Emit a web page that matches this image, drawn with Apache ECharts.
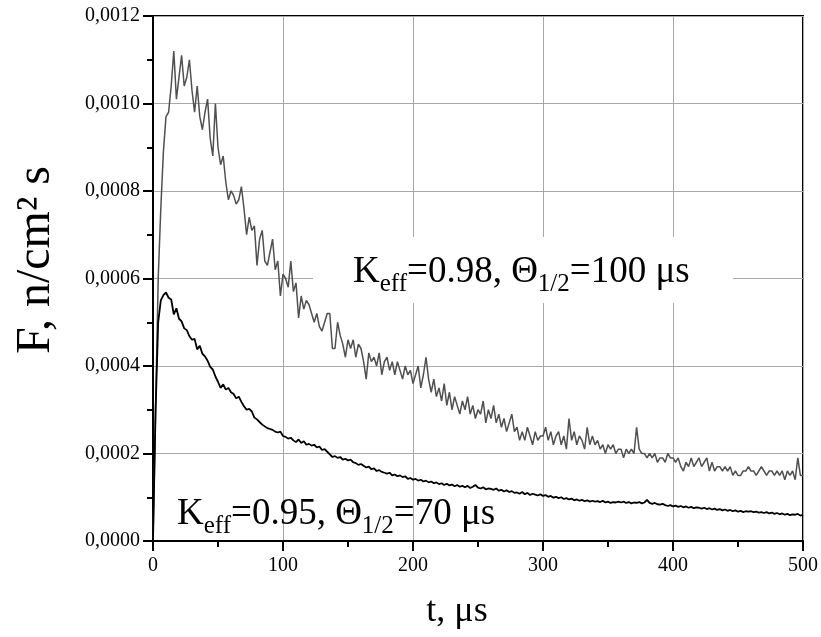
<!DOCTYPE html>
<html>
<head>
<meta charset="utf-8">
<script src="https://cdn.jsdelivr.net/npm/echarts@6/dist/echarts.min.js"></script>
<style>html,body{margin:0;padding:0;background:#fff}#c{width:821px;height:637px}</style>
</head>
<body>
<div id="c"></div>
<script>
// time axis, µs
const tValues = [
0,2,4,6,8,10,12,14,16,18,
20,22,24,26,28,30,32,34,36,38,
40,42,44,46,48,50,52,54,56,58,
60,62,64,66,68,70,72,74,76,78,
80,82,84,86,88,90,92,94,96,98,
100,102,104,106,108,110,112,114,116,118,
120,122,124,126,128,130,132,134,136,138,
140,142,144,146,148,150,152,154,156,158,
160,162,164,166,168,170,172,174,176,178,
180,182,184,186,188,190,192,194,196,198,
200,202,204,206,208,210,212,214,216,218,
220,222,224,226,228,230,232,234,236,238,
240,242,244,246,248,250,252,254,256,258,
260,262,264,266,268,270,272,274,276,278,
280,282,284,286,288,290,292,294,296,298,
300,302,304,306,308,310,312,314,316,318,
320,322,324,326,328,330,332,334,336,338,
340,342,344,346,348,350,352,354,356,358,
360,362,364,366,368,370,372,374,376,378,
380,382,384,386,388,390,392,394,396,398,
400,402,404,406,408,410,412,414,416,418,
420,422,424,426,428,430,432,434,436,438,
440,442,444,446,448,450,452,454,456,458,
460,462,464,466,468,470,472,474,476,478,
480,482,484,486,488,490,492,494,496,498,
500];

// K_eff = 0.98 (grey curve), F in n/cm2 s
const fluxK098 = [
0,.00030,.00060,.00076,.00089,.00097,.00098,.00104,.00112,.00101,
.00106,.00111,.00104,.00106,.00110,.00103,.00098,.00104,.00097,.00094,
.00098,.00101,.00092,.00088,.00100,.00090,.00086,.00088,.00082,.00078,
.00080,.00079,.00077,.00078,.00081,.00076,.00070,.00074,.00071,.00072,
.00063,.00069,.00071,.00064,.00063,.00066,.00069,.00062,.00064,.00056,
.00061,.00060,.00058,.00064,.00057,.00059,.00051,.00056,.00053,.00055,
.00054,.00052,.00050,.00052,.00049,.00048,.00050,.00052,.00052,.00044,
.00044,.00050,.00047,.00045,.00042,.00046,.00044,.00046,.00042,.00045,
.00044,.00041,.00037,.00043,.00041,.00042,.00040,.00043,.00038,.00041,
.00042,.00039,.00041,.00038,.00041,.00039,.00037,.00040,.00038,.00039,
.00036,.00038,.00040,.00035,.00038,.00042,.00037,.00034,.00037,.00033,
.00035,.00032,.00036,.00031,.00034,.00030,.00033,.00031,.00029,.00032,
.00030,.00033,.00029,.00031,.00028,.00030,.00029,.00032,.00027,.00030,
.00028,.00031,.00027,.00029,.00026,.00028,.00025,.00027,.00029,.00025,
.00026,.00023,.00025,.00023,.00026,.00024,.00022,.00025,.00023,.00024,
.00024,.00026,.00023,.00025,.00022,.00024,.00025,.00022,.00024,.00021,
.00028,.00023,.00025,.00022,.00024,.00023,.00021,.00026,.00022,.00024,
.00022,.00023,.00021,.00022,.00020,.00022,.00021,.00022,.00020,.00021,
.00021,.00019,.00021,.00020,.00021,.00020,.00026,.00021,.00020,.00020,
.00019,.00020,.00019,.00020,.00018,.00019,.00019,.00018,.00020,.00019,
.00019,.00018,.00019,.00017,.00016,.00018,.00017,.00019,.00017,.00018,
.00019,.00017,.00018,.00019,.00016,.00018,.00016,.00017,.00017,.00016,
.00017,.00016,.00017,.00015,.00016,.00015,.00015,.00016,.00016,.00017,
.00016,.00016,.00015,.00016,.00017,.00016,.00015,.00016,.00016,.00015,
.00016,.00015,.00016,.00014,.00016,.00015,.00016,.00014,.00019,.00015,
.00015];

// K_eff = 0.95 (black curve)
const fluxK095 = [
0,.000300,.000500,.000550,.000562,.000568,.000556,.000552,.000518,.000532,
.000508,.000502,.000486,.000482,.000468,.000460,.000462,.000438,.000446,.000428,
.000422,.000412,.000398,.000392,.000376,.000364,.000350,.000358,.000346,.000350,
.000340,.000336,.000326,.000330,.000318,.000308,.000300,.000302,.000296,.000282,
.000278,.000272,.000266,.000262,.000258,.000256,.000254,.000250,.000248,.000250,
.000240,.000238,.000234,.000236,.000230,.000226,.000232,.000224,.000228,.000220,
.000222,.000218,.000220,.000214,.000216,.000208,.000210,.000204,.000198,.000192,
.000194,.000190,.000192,.000186,.000188,.000184,.000186,.000180,.000178,.000174,
.000176,.000172,.000168,.000170,.000164,.000166,.000160,.000162,.000158,.000156,
.000154,.000156,.000150,.000152,.000148,.000150,.000146,.000148,.000142,.000144,
.000140,.000142,.000138,.000140,.000136,.000138,.000134,.000136,.000132,.000134,
.000130,.000132,.000128,.000131,.000127,.000129,.000125,.000128,.000124,.000126,
.000123,.000126,.000121,.000124,.000128,.000122,.000120,.000123,.000118,.000120,
.000119,.000117,.000120,.000115,.000117,.000113,.000116,.000112,.000114,.000110,
.000111,.000108,.000112,.000107,.000110,.000105,.000108,.000106,.000104,.000107,
.000103,.000105,.000101,.000103,.000099,.000101,.000098,.000100,.000096,.000098,
.000095,.000097,.000093,.000095,.000092,.000094,.000091,.000093,.000090,.000092,
.000090,.000091,.000089,.000092,.000088,.000090,.000087,.000089,.000088,.000090,
.000088,.000090,.000087,.000089,.000086,.000088,.000087,.000089,.000086,.000088,
.000094,.000087,.000085,.000087,.000084,.000083,.000085,.000082,.000080,.000082,
.000079,.000081,.000078,.000080,.000077,.000079,.000076,.000078,.000075,.000077,
.000076,.000074,.000076,.000073,.000075,.000072,.000074,.000071,.000073,.000070,
.000072,.000069,.000071,.000068,.000070,.000067,.000069,.000066,.000068,.000067,
.000068,.000066,.000067,.000065,.000066,.000064,.000066,.000063,.000065,.000062,
.000064,.000061,.000063,.000060,.000062,.000059,.000061,.000060,.000062,.000058,
.000060];

const xTicks = [0, 100, 200, 300, 400, 500];
const yTicks = [0, 0.0002, 0.0004, 0.0006, 0.0008, 0.0010, 0.0012];
const labelTop = ['K', 'eff', '=0.98, Θ', '1/2', '=100 μs'];
const labelBottom = ['K', 'eff', '=0.95, Θ', '1/2', '=70 μs'];

const FONT = 'Liberation Serif, Times New Roman, serif';
const chart = echarts.init(document.getElementById('c'), null, {renderer: 'canvas'});

function richText(parts) {
  return '{m|' + parts[0] + '}{s|' + parts[1] + '}{m|' + parts[2] + '}{s|' + parts[3] + '}{m|' + parts[4] + '}';
}
const rich = {
  m: {fontSize: 37, fontFamily: FONT, lineHeight: 37, verticalAlign: 'top', fill: '#000'},
  s: {fontSize: 25, fontFamily: FONT, lineHeight: 25, padding: [18, 0, 0, 0], verticalAlign: 'top', fill: '#000'}
};

chart.setOption({
  animation: false,
  backgroundColor: '#fff',
  grid: {left: 153, right: 15, top: 16, bottom: 96, show: true, borderColor: '#000', borderWidth: 2, backgroundColor: 'transparent'},
  xAxis: {
    type: 'value', min: xTicks[0], max: xTicks[xTicks.length - 1], interval: 100,
    axisLine: {show: true, onZero: false, lineStyle: {color: '#000', width: 2}},
    axisTick: {show: true, length: 10, lineStyle: {color: '#000', width: 2}},
    minorTick: {show: true, splitNumber: 2, length: 6, lineStyle: {color: '#000', width: 2}},
    axisLabel: {fontFamily: FONT, fontSize: 20, color: '#000', margin: 15},
    splitLine: {show: true, lineStyle: {color: '#a8a8a8', width: 1}}
  },
  yAxis: {
    type: 'value', min: yTicks[0], max: yTicks[yTicks.length - 1], interval: 0.0002,
    axisLine: {show: true, onZero: false, lineStyle: {color: '#000', width: 2}},
    axisTick: {show: true, length: 10, lineStyle: {color: '#000', width: 2}},
    minorTick: {show: true, splitNumber: 2, length: 6, lineStyle: {color: '#000', width: 2}},
    axisLabel: {fontFamily: FONT, fontSize: 20, color: '#000', margin: 13,
      formatter: v => v.toFixed(4).replace('.', ',')},
    splitLine: {show: true, lineStyle: {color: '#a8a8a8', width: 1}}
  },
  graphic: [
    {type: 'rect', z: 1, shape: {x: 313, y: 237, width: 420, height: 66}, style: {fill: '#fff'}},
    {type: 'text', z: 100, x: 353, y: 254, style: {text: richText(labelTop), rich: rich, align: 'left', verticalAlign: 'top'}},
    {type: 'text', z: 100, x: 177, y: 496, style: {text: richText(labelBottom), rich: rich, align: 'left', verticalAlign: 'top'}},
    {type: 'text', z: 100, x: 36, y: 260, rotation: Math.PI / 2,
      style: {text: 'F, n/cm² s', font: '48px ' + FONT, fill: '#000', align: 'center', verticalAlign: 'middle'}},
    {type: 'text', z: 100, x: 457, y: 612,
      style: {text: 't, μs', font: '36px ' + FONT, fill: '#000', align: 'center', verticalAlign: 'middle'}}
  ],
  series: [
    {type: 'line', name: 'K_eff=0.98', data: tValues.map((t, i) => [t, fluxK098[i]]), showSymbol: false,
      lineStyle: {color: '#505050', width: 1.5}, z: 3},
    {type: 'line', name: 'K_eff=0.95', data: tValues.map((t, i) => [t, fluxK095[i]]), showSymbol: false,
      lineStyle: {color: '#000', width: 1.8}, z: 4}
  ]
});
</script>
</body>
</html>
